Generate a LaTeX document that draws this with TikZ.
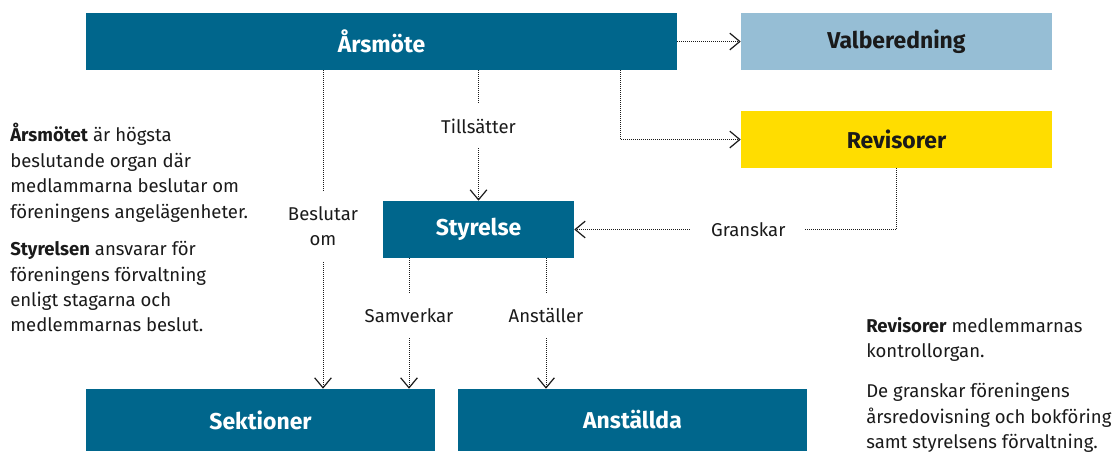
\documentclass[tikz,border=0pt]{standalone}
\usepackage{fontspec}
\setmainfont{Fira Sans}
\usetikzlibrary{arrows.meta}

\definecolor{orgblue}{RGB}{0,102,140}
\definecolor{paleblue}{RGB}{150,190,213}
\definecolor{orgyellow}{RGB}{255,221,0}
\definecolor{ink}{RGB}{26,26,26}

\tikzset{
  box/.style={fill=orgblue, text=white, inner sep=0pt, font=\bfseries\fontsize{17.2}{20}\selectfont},
  link/.style={draw=ink, line width=0.6pt, dash pattern=on 0.6pt off 0.9pt,
    -{Straight Barb[length=7.5pt,width=12.5pt,line width=0.9pt]}},
  lbl/.style={fill=white, text=ink, inner xsep=15pt, inner ysep=11pt, align=center,
    font=\fontsize{13.9}{19}\selectfont},
  note/.style={text=ink, align=left, inner sep=0pt, anchor=north west,
    font=\fontsize{13.9}{19.1}\selectfont}
}

\begin{document}
\begin{tikzpicture}[x=0.75pt, y=-0.75pt]
  \useasboundingbox (0,0) rectangle (1113,451);

  % boxes
  \node[box, minimum width=443.25pt, minimum height=42.75pt] (arsmote) at (381.5,41.5) {Årsmöte};
  \node[box, fill=paleblue, text=ink, minimum width=233.25pt, minimum height=42.75pt] (valberedning) at (896.5,41.5) {Valberedning};
  \node[box, fill=orgyellow, text=ink, minimum width=233.25pt, minimum height=42.75pt] (revisorer) at (896.5,139.5) {Revisorer};
  \node[box, minimum width=143.25pt, minimum height=42.75pt] (styrelse) at (478.5,229.5) {Styrelse};
  \node[box, minimum width=261.75pt, minimum height=46.5pt] (sektioner) at (260.5,420) {Sektioner};
  \node[box, minimum width=261.75pt, minimum height=46.5pt] (anstallda) at (632.5,420) {Anställda};

  % connectors
  \draw[link] (arsmote) -- (valberedning);
  \draw[link] (arsmote.south -| 620,0) |- (revisorer.west);
  \draw[link] (arsmote.south -| styrelse.north) -- node[lbl, pos=0.43] {Tillsätter} (styrelse.north);
  \draw[link] (arsmote.south -| 323,0) -- node[lbl, pos=0.49] {Beslutar\\om} (sektioner.north -| 323,0);
  \draw[link] (revisorer.south) |- node[lbl, pos=0.73] {Granskar} (styrelse.east);
  \draw[link] (styrelse.south -| 409,0) -- node[lbl, pos=0.44] {Samverkar} (sektioner.north -| 409,0);
  \draw[link] (styrelse.south -| 546,0) -- node[lbl, pos=0.44] {Anställer} (anstallda.north -| 546,0);

  % notes
  \node[note] (leftnote) at (10,123) {\textbf{Årsmötet} är högsta\\
    beslutande organ där\\
    medlammarna beslutar om\\
    föreningens angelägenheter.\\[9pt]
    \textbf{Styrelsen} ansvarar för\\
    föreningens förvaltning\\
    enligt stagarna och\\
    medlemmarnas beslut.};
  \node[note] (rightnote) at (866,317) {\textbf{Revisorer} medlemmarnas\\
    kontrollorgan.\\[11pt]
    De granskar föreningens\\
    årsredovisning och bokföring\\
    samt styrelsens förvaltning.};
\end{tikzpicture}
\end{document}
